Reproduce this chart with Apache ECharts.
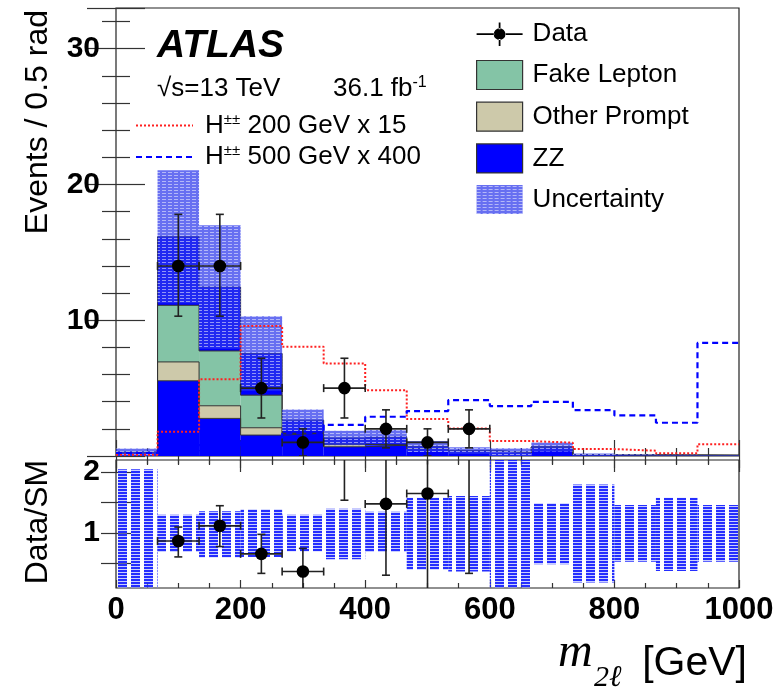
<!DOCTYPE html>
<html>
<head>
<meta charset="utf-8">
<script src="https://cdn.jsdelivr.net/npm/echarts@6/dist/echarts.min.js"></script>
<style>
html, body { margin: 0; padding: 0; background: #fff; }
#chart { width: 780px; height: 695px; }
</style>
</head>
<body>
<div id="chart"></div>
<script>
// bins of m_2l, 15 bins from 0 to 1000 GeV
var binEdges = [0, 66.67, 133.33, 200, 266.67, 333.33, 400, 466.67, 533.33, 600, 666.67, 733.33, 800, 866.67, 933.33, 1000];

// background stack (events per bin), bottom to top
var zz          = [0.27, 5.54, 2.77, 1.54, 1.67, 0.68, 0.80, 0.55, 0.40, 0.26, 0.66, 0.10, 0.08, 0.06, 0.05];
var otherPrompt = [0, 1.39, 0.93, 0.54, 0, 0.18, 0, 0, 0, 0, 0, 0, 0, 0, 0];
var fakeLepton  = [0, 4.17, 4.04, 2.40, 0, 0, 0, 0, 0, 0, 0, 0, 0, 0, 0];
var upperBlue   = [0, 5.05, 4.71, 3.07, 0.97, 0.47, 0.61, 0.15, 0, 0, 0, 0, 0, 0, 0];
var bkgUnc      = [0.28, 4.9, 4.55, 2.75, 0.79, 0.53, 0.50, 0.40, 0.24, 0.32, 0.33, 0.08, 0.04, 0.035, 0.025];

// signals
var hpp200 = [0.10, 1.79, 5.66, 9.58, 8.04, 6.81, 4.85, 2.72, 2.03, 1.10, 0.98, 0.51, 0.39, 0.20, 0.86];
var hpp500 = [0.22, 0.40, 0.80, 1.20, 1.67, 2.30, 2.89, 3.31, 4.12, 3.68, 3.99, 3.38, 2.99, 2.45, 8.33];

// data
var dataCounts  = [0, 14, 14, 5, 1, 5, 2, 1, 2, 0, 0, 0, 0, 0, 0];
var dataErrUp   = [0, 3.8, 3.8, 2.2, 1.0, 2.2, 1.4, 1.0, 1.4, 0, 0, 0, 0, 0, 0];
var dataErrDown = [0, 3.7, 3.7, 2.2, 1.0, 2.2, 1.4, 1.0, 1.4, 0, 0, 0, 0, 0, 0];

// ratio panel
var ratioVals   = [null, 0.87, 1.12, 0.66, 0.37, 3.8, 1.48, 1.65, 4.8, null, null, null, null, null, null];
var ratioHi     = [null, 1.10, 1.45, 0.98, 0.75, 5.5, 2.60, 3.00, 6.5, null, null, null, null, null, null];
var ratioLo     = [null, 0.61, 0.78, 0.34, 0.00, 1.54, 0.31, 0.00, 0.34, null, null, null, null, null, null];
var ratioBandHi = [2.05, 1.30, 1.36, 1.39, 1.30, 1.40, 1.35, 1.58, 1.61, 2.40, 1.49, 1.80, 1.46, 1.58, 1.46];
var ratioBandLo = [0.00, 0.69, 0.60, 0.61, 0.70, 0.57, 0.69, 0.40, 0.37, 0.00, 0.49, 0.19, 0.53, 0.38, 0.53];

var mainLabels = [10, 20, 30];
var ratioLabels = [1, 2];
var ratioTicks = [0.5, 1, 1.5, 2];

var FONT = "'Liberation Sans', Arial, Helvetica, sans-serif";
var SERIF = "'Liberation Serif', 'Times New Roman', serif";

// hatch patterns
function bandPattern() {
    var c = document.createElement('canvas');
    c.width = 6; c.height = 3;
    var g = c.getContext('2d');
    g.fillStyle = 'rgba(45,55,235,0.72)';
    g.fillRect(0, 0, 6, 3);
    g.fillStyle = 'rgba(255,255,255,0.5)';
    g.fillRect(0, 1, 4, 1);
    return { image: c, repeat: 'repeat' };
}
function ratioPattern() {
    var c = document.createElement('canvas');
    c.width = 13; c.height = 3;
    var g = c.getContext('2d');
    g.fillStyle = 'rgba(25,35,255,0.95)';
    g.fillRect(1, 0, 9, 2);
    g.fillStyle = 'rgba(150,160,255,0.5)';
    g.fillRect(1, 2, 9, 1);
    return { image: c, repeat: 'repeat' };
}
var bandFill = bandPattern();
var ratioFill = ratioPattern();

function binRect(params, api) {
    var a = api.coord([api.value(0), api.value(3)]);
    var b = api.coord([api.value(1), api.value(2)]);
    return {
        type: 'rect',
        shape: { x: a[0], y: a[1], width: b[0] - a[0], height: b[1] - a[1] },
        style: api.style({ stroke: null })
    };
}

function errorBars(params, api) {
    var x = api.value(0), y = api.value(1), lo = api.value(2), hi = api.value(3), hw = api.value(4);
    var c = api.coord([x, y]);
    var cl = api.coord([x, lo]);
    var ch = api.coord([x, hi]);
    var xl = api.coord([x - hw, y]);
    var xr = api.coord([x + hw, y]);
    var st = { stroke: '#222', lineWidth: 1.6 };
    return {
        type: 'group',
        children: [
            { type: 'line', shape: { x1: c[0], y1: cl[1], x2: c[0], y2: ch[1] }, style: st },
            { type: 'line', shape: { x1: c[0] - 4, y1: cl[1], x2: c[0] + 4, y2: cl[1] }, style: st },
            { type: 'line', shape: { x1: c[0] - 4, y1: ch[1], x2: c[0] + 4, y2: ch[1] }, style: st },
            { type: 'line', shape: { x1: xl[0], y1: c[1], x2: xr[0], y2: c[1] }, style: st },
            { type: 'line', shape: { x1: xl[0], y1: c[1] - 4, x2: xl[0], y2: c[1] + 4 }, style: st },
            { type: 'line', shape: { x1: xr[0], y1: c[1] - 4, x2: xr[0], y2: c[1] + 4 }, style: st },
            { type: 'circle', shape: { cx: c[0], cy: c[1], r: 6.3 }, style: { fill: '#000' } }
        ]
    };
}

// stack layers
var layers = [
    { name: 'ZZ', vals: zz, color: '#0000ff' },
    { name: 'Other Prompt', vals: otherPrompt, color: '#cdc9aa' },
    { name: 'Fake Lepton', vals: fakeLepton, color: '#84c4a6' },
    { name: 'upper', vals: upperBlue, color: '#0000ff' }
];
var series = [];
var base = binEdges.slice(0, 15).map(function () { return 0; });
layers.forEach(function (L) {
    var d = [];
    var top = [];
    for (var i = 0; i < 15; i++) {
        if (L.vals[i] > 0) d.push([binEdges[i], binEdges[i + 1], base[i], base[i] + L.vals[i]]);
        top.push(base[i] + L.vals[i]);
    }
    series.push({
        type: 'custom', name: L.name, xAxisIndex: 0, yAxisIndex: 0, z: 2,
        itemStyle: { color: L.color }, renderItem: binRect, data: d, silent: true
    });
    series.push({
        type: 'line', name: L.name + ' outline', xAxisIndex: 0, yAxisIndex: 0, z: 3,
        step: 'end', symbol: 'none', silent: true,
        lineStyle: { color: '#333', width: 1 },
        data: binEdges.map(function (e, i) { return [e, top[Math.min(i, 14)]]; })
    });
    base = top;
});

// uncertainty band on the total
var bandData = [];
for (var i = 0; i < 15; i++) {
    bandData.push([binEdges[i], binEdges[i + 1], Math.max(0, base[i] - bkgUnc[i]), base[i] + bkgUnc[i]]);
}
series.push({
    type: 'custom', name: 'Uncertainty', xAxisIndex: 0, yAxisIndex: 0, z: 4, clip: true,
    itemStyle: { color: bandFill }, renderItem: binRect, data: bandData, silent: true
});

// signals
series.push({
    type: 'line', name: 'H200', xAxisIndex: 0, yAxisIndex: 0, z: 5, step: 'end', symbol: 'none',
    itemStyle: { color: '#ff2020' },
    lineStyle: { color: '#ff2020', width: 2, type: [2, 2] },
    data: binEdges.map(function (e, i) { return [e, hpp200[Math.min(i, 14)]]; })
});
series.push({
    type: 'line', name: 'H500', xAxisIndex: 0, yAxisIndex: 0, z: 5, step: 'end', symbol: 'none',
    itemStyle: { color: '#0000ff' },
    lineStyle: { color: '#0000ff', width: 2.2, type: [6, 4] },
    data: binEdges.map(function (e, i) { return [e, hpp500[Math.min(i, 14)]]; })
});

// data points
var dataPts = [];
var ratioPts = [];
var ratioBand = [];
for (var i = 0; i < 15; i++) {
    var cx = (binEdges[i] + binEdges[i + 1]) / 2;
    var hw = (binEdges[i + 1] - binEdges[i]) / 2;
    if (dataCounts[i] > 0) {
        dataPts.push([cx, dataCounts[i], dataCounts[i] - dataErrDown[i], dataCounts[i] + dataErrUp[i], hw]);
    }
    if (ratioVals[i] !== null) {
        ratioPts.push([cx, ratioVals[i], ratioLo[i], ratioHi[i], hw]);
    }
    ratioBand.push([binEdges[i], binEdges[i + 1], ratioBandLo[i], ratioBandHi[i]]);
}
series.push({
    type: 'custom', name: 'Data', xAxisIndex: 0, yAxisIndex: 0, z: 6, clip: true,
    itemStyle: { color: '#000' }, renderItem: errorBars, data: dataPts, silent: true
});
series.push({
    type: 'custom', name: 'ratio band', xAxisIndex: 2, yAxisIndex: 2, z: 4, clip: true,
    itemStyle: { color: ratioFill }, renderItem: binRect, data: ratioBand, silent: true
});
series.push({
    type: 'custom', name: 'ratio data', xAxisIndex: 2, yAxisIndex: 2, z: 6, clip: true,
    itemStyle: { color: '#000' }, renderItem: errorBars, data: ratioPts, silent: true
});

function xAx(grid, pos, labels, majorLen, minorLen) {
    return {
        type: 'value', gridIndex: grid, position: pos, min: 0, max: 1000, interval: 200,
        axisLine: { show: false },
        axisTick: { show: true, inside: true, length: majorLen, lineStyle: { color: '#333', width: 1.2 } },
        minorTick: { show: true, splitNumber: 4, length: minorLen, lineStyle: { color: '#333', width: 1.2 } },
        splitLine: { show: false },
        axisLabel: {
            show: labels, margin: 7, color: '#000',
            fontFamily: FONT, fontWeight: 'bold', fontSize: 31,
            formatter: function (v) { return String(v); }
        }
    };
}
function yMain(pos, labels) {
    return {
        type: 'value', gridIndex: 0, position: pos, min: 0, max: 33, interval: 10,
        axisLine: { show: false },
        axisTick: { show: true, inside: true, length: 29, lineStyle: { color: '#333', width: 1.2 } },
        minorTick: { show: true, splitNumber: 5, length: 14, lineStyle: { color: '#333', width: 1.2 } },
        splitLine: { show: false },
        axisLabel: {
            show: labels, customValues: mainLabels, margin: 16, color: '#000',
            fontFamily: FONT, fontWeight: 'bold', fontSize: 30
        }
    };
}
function yRatio(pos, labels) {
    return {
        type: 'value', gridIndex: 1, position: pos, min: 0.1, max: 2.2,
        axisLine: { show: false },
        axisTick: { show: true, inside: true, length: 15, customValues: ratioTicks, lineStyle: { color: '#333', width: 1.2 } },
        splitLine: { show: false },
        axisLabel: {
            show: labels, customValues: ratioLabels, margin: 16, color: '#000',
            fontFamily: FONT, fontWeight: 'bold', fontSize: 30
        }
    };
}

var option = {
    animation: false,
    backgroundColor: '#fff',
    grid: [
        { left: 116, top: 8, width: 623, height: 448, show: true, borderColor: '#222', borderWidth: 1.2, backgroundColor: 'transparent' },
        { left: 116, top: 460, width: 623, height: 128, show: true, borderColor: '#222', borderWidth: 1.2, backgroundColor: 'transparent' }
    ],
    xAxis: [
        xAx(0, 'bottom', false, 16, 8),
        xAx(0, 'top', false, 16, 8),
        xAx(1, 'bottom', true, 8, 5),
        xAx(1, 'top', false, 8, 5)
    ],
    yAxis: [
        yMain('left', true),
        yMain('right', false),
        yRatio('left', true),
        yRatio('right', false)
    ],
    legend: [
        {
            orient: 'vertical', left: 476, top: 20, padding: 0, itemWidth: 46, itemHeight: 29, itemGap: 11.5,
            selectedMode: false,
            textStyle: { fontFamily: FONT, fontSize: 26, color: '#000', padding: [0, 0, 0, 5] },
            data: [
                { name: 'Data', icon: 'path://M0,0h0.01v0.01h-0.01z M46.99,28.99h0.01v0.01h-0.01z M0,13.6h18v1.8H0z M29,13.6h18v1.8H29z M22.6,2.5h1.8v7h-1.8z M22.6,19.5h1.8v7h-1.8z M17.5,14.5a6,6 0 1,0 12,0a6,6 0 1,0 -12,0z' },
                { name: 'Fake Lepton', icon: 'rect', itemStyle: { borderColor: '#333', borderWidth: 1.2 } },
                { name: 'Other Prompt', icon: 'rect', itemStyle: { borderColor: '#333', borderWidth: 1.2 } },
                { name: 'ZZ', icon: 'rect', itemStyle: { borderColor: '#333', borderWidth: 1.2 } },
                { name: 'Uncertainty', icon: 'rect' }
            ]
        },
        {
            orient: 'vertical', left: 135, top: 112, padding: 0, itemWidth: 57, itemHeight: 14, itemGap: 5,
            selectedMode: false,
            itemStyle: { opacity: 0 },
            textStyle: {
                fontFamily: FONT, fontSize: 26, color: '#000', padding: [0, 0, 0, 7],
                rich: {
                    n: { fontFamily: FONT, fontSize: 26, color: '#000' },
                    s: { fontFamily: FONT, fontSize: 15, color: '#000', padding: [0, 0, 12, 0] }
                }
            },
            formatter: function (name) {
                return name === 'H200' ? '{n|H}{s|±±}{n| 200 GeV x 15}' : '{n|H}{s|±±}{n| 500 GeV x 400}';
            },
            data: ['H200', 'H500']
        }
    ],
    graphic: [
        { type: 'text', x: 157, y: 46, style: { text: 'ATLAS', font: "italic bold 39px " + FONT, fill: '#000', verticalAlign: 'middle' } },
        { type: 'text', x: 157, y: 89, style: { text: '√s=13 TeV', font: "26px " + FONT, fill: '#000', verticalAlign: 'middle' } },
        {
            type: 'text', x: 333, y: 89,
            style: {
                text: '{n|36.1 fb}{s|-1}', verticalAlign: 'middle',
                rich: {
                    n: { font: "26px " + FONT, fill: '#000' },
                    s: { font: "16px " + FONT, fill: '#000', padding: [0, 0, 12, 0] }
                }
            }
        },
        {
            type: 'text', x: 38, y: 10, rotation: Math.PI / 2,
            style: { text: 'Events / 0.5 rad', font: "32px " + FONT, fill: '#000', align: 'right', verticalAlign: 'middle' }
        },
        {
            type: 'text', x: 38, y: 522, rotation: Math.PI / 2,
            style: { text: 'Data/SM', font: "32px " + FONT, fill: '#000', align: 'center', verticalAlign: 'middle' }
        },
        { type: 'text', x: 558, y: 653, style: { text: 'm', font: "italic 48px " + SERIF, fill: '#000', verticalAlign: 'middle' } },
        { type: 'text', x: 594, y: 678, style: { text: '2ℓ', font: "italic 30px " + SERIF, fill: '#000', verticalAlign: 'middle' } },
        { type: 'text', x: 747, y: 664, style: { text: '[GeV]', font: "41px " + FONT, fill: '#000', align: 'right', verticalAlign: 'middle' } }
    ],
    series: series
};

var chart = echarts.init(document.getElementById('chart'));
chart.setOption(option);
</script>
</body>
</html>
